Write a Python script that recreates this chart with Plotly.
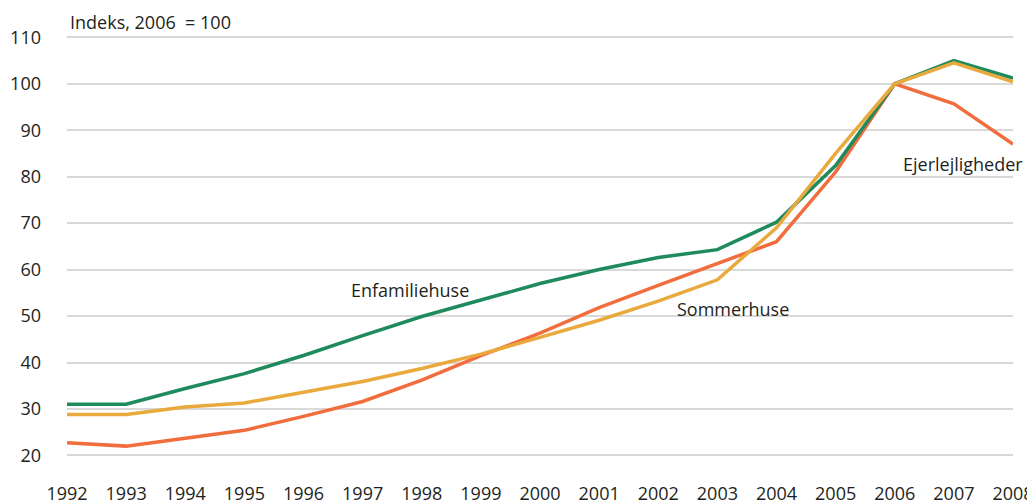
import plotly.graph_objects as go

years = list(range(1992, 2009))

enfamiliehuse = [31, 31, 34.4, 37.6, 41.5, 45.8, 49.9, 53.4, 57, 60, 62.6, 64.3, 70.2, 82.4, 100, 105, 101.2]
sommerhuse = [28.8, 28.8, 30.4, 31.3, 33.6, 35.9, 38.7, 41.8, 45.4, 49.1, 53.2, 57.8, 69, 85, 100, 104.5, 100.4]
ejerlejligheder = [22.7, 22, 23.7, 25.4, 28.4, 31.6, 36.2, 41.5, 46.3, 51.8, 56.6, 61.3, 66, 81, 100, 95.7, 87]

font = "Open Sans, sans-serif"

fig = go.Figure()
fig.add_trace(go.Scatter(x=years, y=ejerlejligheder, mode="lines",
                         line=dict(color="#f26d3d", width=3.5), name="Ejerlejligheder"))
fig.add_trace(go.Scatter(x=years, y=enfamiliehuse, mode="lines",
                         line=dict(color="#1f8b5c", width=3.5), name="Enfamiliehuse"))
fig.add_trace(go.Scatter(x=years, y=sommerhuse, mode="lines",
                         line=dict(color="#e9a93c", width=3.5), name="Sommerhuse"))

# page body has an 8px margin, so the margins are shifted by that amount
fig.update_layout(
    width=1035, height=504,
    margin=dict(l=59, r=30, t=20, b=38),
    plot_bgcolor="white", paper_bgcolor="white",
    showlegend=False,
    font=dict(family=font, size=18, color="#231f20"),
    xaxis=dict(range=[1992, 2008], tickmode="array", tickvals=years,
               showgrid=False, zeroline=False, showline=False, automargin=False,
               ticks="", ticklabelstandoff=7),
    yaxis=dict(range=[16, 112], tickmode="array", tickvals=list(range(20, 111, 10)),
               showgrid=True, gridcolor="#d9d9d9", gridwidth=2, automargin=False,
               zeroline=False, showline=False, ticks="", ticklabelstandoff=25),
    annotations=[
        dict(text="Indeks, 2006  = 100", x=0.0, y=1.0, xref="paper", yref="paper",
             xanchor="left", yanchor="bottom", showarrow=False, xshift=1, yshift=-8,
             font=dict(size=18)),
        dict(text="Enfamiliehuse", x=1997.8, y=55.5, showarrow=False),
        dict(text="Sommerhuse", x=2003.27, y=51.6, showarrow=False),
        dict(text="Ejerlejligheder", x=2007.16, y=82.8, showarrow=False),
    ],
)

fig.write_html("out.html")
